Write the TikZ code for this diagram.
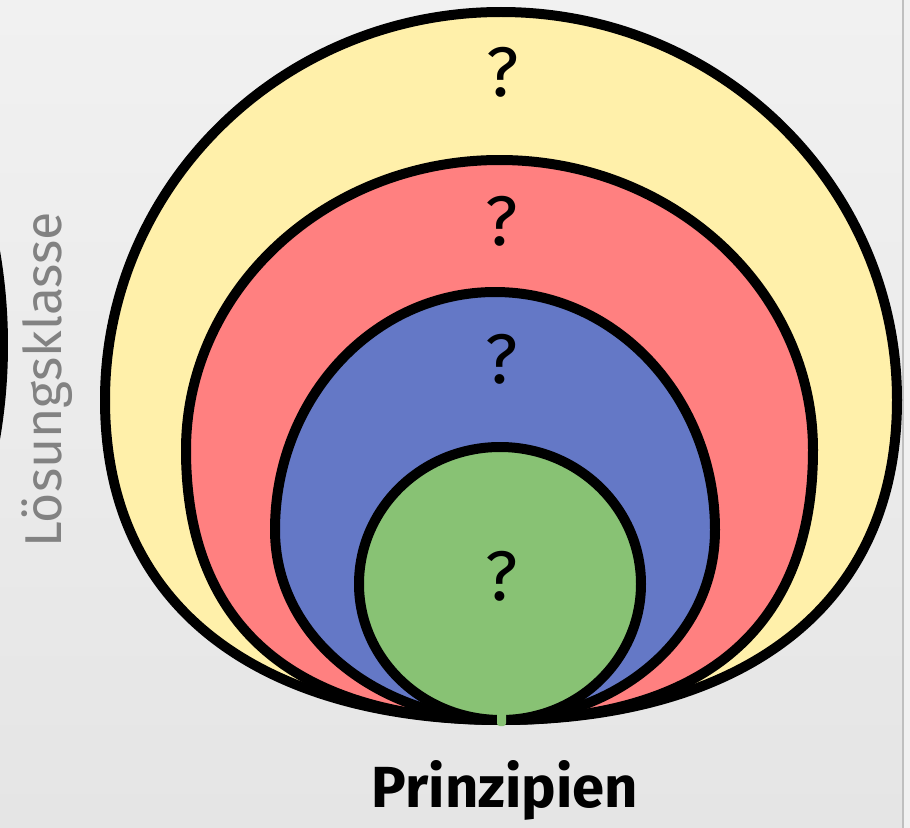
\documentclass[tikz,border=0pt]{standalone}
\usepackage{fontspec}
\setmainfont{Fira Sans}
\definecolor{bgtop}{RGB}{241,241,241}
\definecolor{bgbot}{RGB}{229,229,229}
\definecolor{yfill}{RGB}{255,240,170}
\definecolor{rfill}{RGB}{255,128,128}
\definecolor{bfill}{RGB}{100,120,198}
\definecolor{gfill}{RGB}{136,194,116}
\definecolor{labgray}{RGB}{130,130,130}
\tikzset{
  ring/.style={draw=black, line width=0.2cm, line join=round},
  qmark/.style={font=\fontsize{40}{40}\selectfont, anchor=base, inner sep=0pt},
}
\begin{document}
\begin{tikzpicture}[x=0.02cm,y=-0.02cm]
\useasboundingbox (0,0) rectangle (910,828);
\shade[top color=bgtop, bottom color=bgbot] (0,0) rectangle (910,828);
\fill[bgtop] (903,0) rectangle (910,828);
\draw[black!25, line width=0.6pt] (903,0) -- (903,828);
\begin{scope}
\clip (0,0) rectangle (910,828);
\draw[ring] (-547,345) circle[radius=550];
\end{scope}
% yellow
\path[ring, fill=yfill] (501,720) .. controls (283.2,720) and (105,624) .. (105,400)
  arc[start angle=180, end angle=360, x radius=396, y radius=388]
  .. controls (897,624) and (718.8,720) .. (501,720) -- cycle;
% red
\path[ring, fill=rfill] (501,720) .. controls (327.75,720) and (186,652.5) .. (186,450)
  arc[start angle=180, end angle=360, x radius=313.5, y radius=290]
  .. controls (813,652.5) and (672.6,720) .. (501,720) -- cycle;
% blue
\path[ring, fill=bfill] (501,720) .. controls (388,720) and (275,644) .. (275,530)
  arc[start angle=180, end angle=360, x radius=220, y radius=238]
  .. controls (715,644) and (608,720) .. (501,720) -- cycle;
% green
\path[ring, fill=gfill] (501,720) .. controls (422.6,720) and (359,659.1) .. (359,584)
  arc[start angle=180, end angle=360, x radius=141, y radius=137]
  .. controls (641,659.1) and (578.3,720) .. (501,720) -- cycle;
\fill[gfill, rounded corners=1.5pt] (497,708) rectangle (506,726);
% question marks
\node[qmark] (q1) at (503,97) {?};
\node[qmark] (q2) at (502,245) {?};
\node[qmark] (q3) at (502,383) {?};
\node[qmark] (q4) at (502,600) {?};
% labels
\node[font=\fontsize{33}{33}\selectfont\bfseries, anchor=base, inner sep=0pt] (prin) at (505,807) {Prinzipien};
\node[font=\fontsize{29.5}{29.5}\selectfont, text=labgray, anchor=base, rotate=90, inner sep=0pt] (loes) at (61,380) {Lösungsklasse};
\end{tikzpicture}
\end{document}
